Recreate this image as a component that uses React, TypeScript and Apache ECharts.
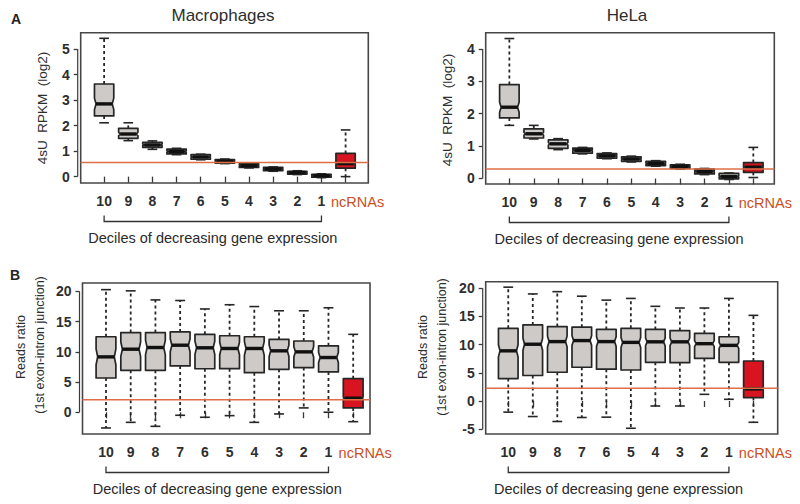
import React, { useEffect, useRef } from "react";
import * as echarts from "echarts";

const FONT = '"Liberation Sans", Arial, Helvetica, sans-serif';

// ---------------- data ----------------
const CATEGORIES = ["10", "9", "8", "7", "6", "5", "4", "3", "2", "1", "ncRNAs"];
const X_POSITIONS = CATEGORIES.map((_, i) => i + 1);

// [lower whisker, Q1, median, Q3, upper whisker]
const MACRO_RPKM = [
  [2.11, 2.38, 2.85, 3.63, 5.42],
  [1.41, 1.5, 1.67, 1.89, 2.11],
  [1.07, 1.15, 1.24, 1.34, 1.4],
  [0.86, 0.89, 0.98, 1.08, 1.11],
  [0.66, 0.68, 0.77, 0.86, 0.88],
  [0.51, 0.53, 0.6, 0.67, 0.69],
  [0.34, 0.36, 0.43, 0.5, 0.52],
  [0.21, 0.23, 0.3, 0.36, 0.38],
  [0.08, 0.1, 0.16, 0.21, 0.23],
  [-0.04, -0.02, 0.04, 0.09, 0.11],
  [0.0, 0.33, 0.51, 0.91, 1.83],
];
const HELA_RPKM = [
  [1.64, 1.87, 2.2, 2.9, 4.32],
  [1.22, 1.25, 1.38, 1.53, 1.64],
  [0.89, 0.93, 1.07, 1.19, 1.23],
  [0.76, 0.78, 0.87, 0.94, 0.96],
  [0.61, 0.63, 0.7, 0.77, 0.79],
  [0.51, 0.53, 0.6, 0.67, 0.69],
  [0.38, 0.4, 0.46, 0.53, 0.55],
  [0.29, 0.31, 0.37, 0.42, 0.44],
  [0.12, 0.14, 0.22, 0.29, 0.31],
  [-0.03, -0.01, 0.06, 0.16, 0.17],
  [0.03, 0.19, 0.35, 0.49, 0.96],
];
const MACRO_RATIO = [
  [-2.6, 5.67, 9.17, 12.5, 20.3],
  [-1.67, 6.94, 10.44, 13.2, 20.1],
  [-2.33, 6.94, 10.72, 13.2, 18.6],
  [-0.5, 7.67, 11.1, 13.3, 18.5],
  [-0.83, 7.2, 10.67, 12.9, 17.1],
  [-0.56, 7.22, 10.56, 12.67, 17.8],
  [-1.67, 6.56, 10.56, 12.5, 17.5],
  [-0.28, 7.1, 10.17, 12.06, 16.8],
  [0.72, 7.4, 10.0, 11.8, 16.8],
  [0.0, 6.67, 9.06, 11.0, 17.3],
  [-1.56, 0.72, 2.33, 5.56, 12.9],
];
const HELA_RATIO = [
  [-1.98, 3.98, 8.9, 12.9, 20.2],
  [-2.76, 4.52, 10.07, 13.5, 19.0],
  [-3.64, 5.1, 10.54, 13.2, 19.4],
  [-2.93, 5.99, 10.72, 13.1, 18.6],
  [-2.87, 5.64, 10.54, 12.7, 17.9],
  [-4.84, 5.5, 10.4, 12.9, 18.2],
  [-0.89, 6.86, 10.5, 12.7, 16.8],
  [-0.89, 6.8, 10.5, 12.5, 16.5],
  [1.18, 7.56, 10.17, 12.0, 16.5],
  [0.3, 6.86, 9.87, 11.4, 18.2],
  [-3.78, 0.6, 2.15, 7.1, 15.2],
];

const MACRO_RPKM_REF = 0.55;
const HELA_RPKM_REF = 0.29;
const MACRO_RATIO_REF = 2.06;
const HELA_RATIO_REF = 2.27;

const MACRO_RPKM_TICKS = [0, 1, 2, 3, 4, 5];
const HELA_RPKM_TICKS = [0, 1, 2, 3, 4];
const MACRO_RATIO_TICKS = [0, 5, 10, 15, 20];
const HELA_RATIO_TICKS = [-5, 0, 5, 10, 15, 20];

const X_AXIS_TITLE = "Deciles of decreasing gene expression";

// ---------------- styles / layout ----------------
const BOX_FILL = "#cdcac7";
const NC_FILL = "#d7141f";
const NC_TEXT = "#c9501f";
const REF_COLOR = "#de6e46";
const INK = "#262626";
const FRAME = "#474747";
const BOX_WIDTH = 0.8;

const PANELS = [
  { data: MACRO_RPKM, ref: MACRO_RPKM_REF, ticks: MACRO_RPKM_TICKS, left: 80.7, top: 32.7, width: 287.6, height: 150.3, xMin: 0.03, xMax: 11.94, yMin: -0.25, yMax: 5.64, notch: 0.18 },
  { data: HELA_RPKM, ref: HELA_RPKM_REF, ticks: HELA_RPKM_TICKS, left: 485.7, top: 32.7, width: 288.6, height: 151.3, xMin: 0.03, xMax: 11.86, yMin: -0.17, yMax: 4.5, notch: 0.15 },
  { data: MACRO_RATIO, ref: MACRO_RATIO_REF, ticks: MACRO_RATIO_TICKS, left: 82.5, top: 283, width: 287.5, height: 151, xMin: 0.05, xMax: 11.68, yMin: -3.6, yMax: 21.4, notch: 0.19 },
  { data: HELA_RATIO, ref: HELA_RATIO_REF, ticks: HELA_RATIO_TICKS, left: 485.7, top: 281.7, width: 292, height: 152.3, xMin: 0.08, xMax: 11.99, yMin: -5.86, yMax: 21.17, notch: 0.12 },
];

function boxRenderer(notchK: number) {
  return (params: any, api: any) => {
    const x = api.value(0);
    const lo = api.value(1);
    const q1 = api.value(2);
    const med = api.value(3);
    const q3 = api.value(4);
    const hi = api.value(5);
    const isNc = Math.round(x) === CATEGORIES.length;
    const py = (v: number) => api.coord([x, v])[1];
    const cx = api.coord([x, med])[0];
    const hw = Math.abs(api.coord([x + BOX_WIDTH / 2, med])[0] - cx);
    const k = 0.84;
    const nh = (isNc ? notchK * 0.2 : notchK) * (q3 - q1);
    const nTop = Math.min(med + nh, q3);
    const nBot = Math.max(med - nh, q1);
    const yq1 = py(q1), yq3 = py(q3), ym = py(med), ylo = py(lo), yhi = py(hi);
    const ynt = py(nTop), ynb = py(nBot);
    const capW = hw * 0.5;
    const dash = { stroke: INK, lineWidth: 1.8, lineDash: [3, 3] };
    const solid = { stroke: INK, lineWidth: 1.6 };
    return {
      type: "group",
      children: [
        { type: "line", shape: { x1: cx, y1: yq3, x2: cx, y2: yhi }, style: dash },
        { type: "line", shape: { x1: cx, y1: yq1, x2: cx, y2: ylo }, style: dash },
        { type: "line", shape: { x1: cx - capW, y1: yhi, x2: cx + capW, y2: yhi }, style: solid },
        { type: "line", shape: { x1: cx - capW, y1: ylo, x2: cx + capW, y2: ylo }, style: solid },
        {
          type: "polygon",
          shape: {
            points: [
              [cx - hw, yq3],
              [cx + hw, yq3],
              [cx + hw, ynt],
              [cx + hw * k, ym],
              [cx + hw, ynb],
              [cx + hw, yq1],
              [cx - hw, yq1],
              [cx - hw, ynb],
              [cx - hw * k, ym],
              [cx - hw, ynt],
            ],
          },
          style: { fill: isNc ? NC_FILL : BOX_FILL, stroke: INK, lineWidth: 1.7, lineJoin: "round" },
        },
        { type: "line", shape: { x1: cx - hw * k, y1: ym, x2: cx + hw * k, y2: ym }, style: { stroke: "#111", lineWidth: 3.4 } },
      ],
    };
  };
}

function decorRenderer(ticks: number[]) {
  return (params: any, api: any) => {
    const ref = api.value(0);
    const cs = params.coordSys;
    const yRef = api.coord([1, ref])[1];
    const xa = api.coord([1, ref])[0];
    const xb = api.coord([10, ref])[0];
    const base = cs.y + cs.height;
    const yT0 = api.coord([1, ticks[0]])[1];
    const yT1 = api.coord([1, ticks[ticks.length - 1]])[1];
    return {
      type: "group",
      children: [
        { type: "line", shape: { x1: cs.x, y1: yRef, x2: cs.x + cs.width, y2: yRef }, style: { stroke: REF_COLOR, lineWidth: 1.5 } },
        { type: "line", shape: { x1: cs.x - 3, y1: yT0, x2: cs.x - 3, y2: yT1 }, style: { stroke: "#3a3a3a", lineWidth: 1.2 } },
        {
          type: "polyline",
          shape: { points: [[xa, base + 32.5], [xa, base + 38.5], [xb, base + 38.5], [xb, base + 32.5]] },
          style: { stroke: "#333", lineWidth: 1.3, fill: "none" },
        },
        {
          type: "text",
          style: {
            text: X_AXIS_TITLE,
            x: (xa + xb) / 2,
            y: base + 54.5,
            align: "center",
            verticalAlign: "middle",
            textAlign: "center",
            textVerticalAlign: "middle",
            fontFamily: FONT,
            fontSize: 14.5,
            fill: "#2a2a2a",
          },
        },
      ],
    };
  };
}

function textEl(text: string, x: number, y: number, size: number, opts: any = {}) {
  return {
    type: "text",
    x,
    y,
    rotation: opts.rotate ? Math.PI / 2 : 0,
    style: {
      text,
      align: "center",
      verticalAlign: "middle",
      textAlign: "center",
      textVerticalAlign: "middle",
      fontFamily: FONT,
      fontSize: size,
      fontWeight: opts.bold ? "bold" : "normal",
      fill: opts.color || "#2e2e2e",
    },
  };
}

export default function App() {
  const ref = useRef<HTMLDivElement>(null);

  useEffect(() => {
    if (!ref.current) return;
    const chart = echarts.init(ref.current, null, { renderer: "svg" });

    const grid = PANELS.map((p) => ({
      left: p.left,
      top: p.top,
      width: p.width,
      height: p.height,
      show: true,
      borderColor: FRAME,
      borderWidth: 1.6,
      backgroundColor: "rgba(0,0,0,0)",
    }));

    const xAxis = PANELS.map((p, i) => ({
      type: "value",
      gridIndex: i,
      min: p.xMin,
      max: p.xMax,
      axisLine: { show: false },
      splitLine: { show: false },
      axisTick: { show: true, customValues: X_POSITIONS, length: 6, lineStyle: { color: "#3a3a3a", width: 1.3 } },
      axisLabel: {
        show: true,
        customValues: X_POSITIONS,
        margin: 11,
        color: "#2e2e2e",
        fontFamily: FONT,
        fontSize: 14,
        fontWeight: "bold",
        formatter: (v: number) => {
          const c = CATEGORIES[Math.round(v) - 1];
          return c === "ncRNAs" ? "{nc|" + c + "}" : c;
        },
        rich: {
          nc: { color: NC_TEXT, fontFamily: FONT, fontSize: 14.5, fontWeight: "normal", padding: [0, 0, 0, 24] },
        },
      },
    }));

    const yAxis = PANELS.map((p, i) => ({
      type: "value",
      gridIndex: i,
      min: p.yMin,
      max: p.yMax,
      offset: 3,
      axisLine: { show: false },
      splitLine: { show: false },
      axisTick: { show: true, customValues: p.ticks, length: 4, lineStyle: { color: "#3a3a3a", width: 1.3 } },
      axisLabel: {
        show: true,
        customValues: p.ticks,
        margin: 8,
        color: "#2e2e2e",
        fontFamily: FONT,
        fontSize: 14,
        fontWeight: "bold",
      },
    }));

    const series: any[] = [];
    PANELS.forEach((p, i) => {
      series.push({
        type: "custom",
        xAxisIndex: i,
        yAxisIndex: i,
        z: 2,
        renderItem: boxRenderer(p.notch),
        data: p.data.map((d, j) => [X_POSITIONS[j], ...d]),
      });
      series.push({
        type: "custom",
        xAxisIndex: i,
        yAxisIndex: i,
        z: 3,
        renderItem: decorRenderer(p.ticks),
        data: [[p.ref]],
      });
    });

    const graphic = [
      textEl("A", 16, 19, 14, { bold: true, color: "#222" }),
      textEl("B", 15, 275, 14, { bold: true, color: "#222" }),
      textEl("Macrophages", 223, 15, 17),
      textEl("HeLa", 627, 15, 17),
      textEl("4sU  RPKM  (log2)", 42.5, 108, 13.5, { rotate: true }),
      textEl("4sU  RPKM  (log2)", 447, 110, 13.5, { rotate: true }),
      textEl("Reads ratio", 21, 347, 12.5, { rotate: true }),
      textEl("(1st exon-intron junction)", 40, 345, 12.5, { rotate: true }),
      textEl("Reads ratio", 422.5, 347, 12.5, { rotate: true }),
      textEl("(1st exon-intron junction)", 442, 347, 12.5, { rotate: true }),
    ];

    chart.setOption({
      animation: false,
      backgroundColor: "#ffffff",
      grid,
      xAxis,
      yAxis,
      series,
      graphic,
    });

    return () => chart.dispose();
  }, []);

  return <div ref={ref} style={{ position: "fixed", left: 0, top: 0, width: 800, height: 504 }} />;
}
